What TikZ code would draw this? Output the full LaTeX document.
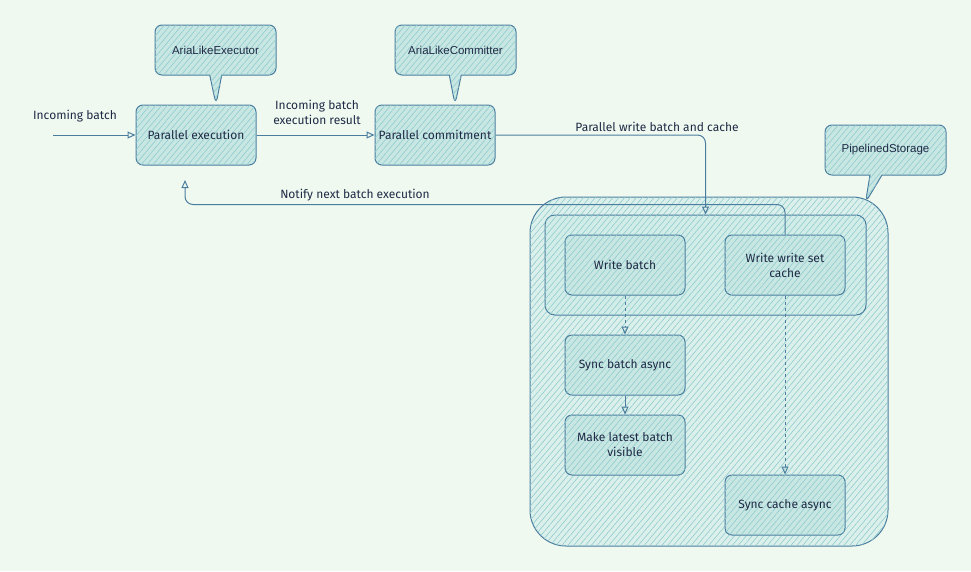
\documentclass[tikz,border=0pt]{standalone}
\usepackage{fontspec}
\setmainfont{Liberation Sans}
\newfontfamily\handfont{Fira Sans}
\usetikzlibrary{arrows.meta, shapes.callouts, patterns.meta}

\definecolor{bgc}{HTML}{F0F9F0}
\definecolor{linec}{HTML}{4A7D9E}
\definecolor{hatchc}{HTML}{8FCBCF}
\definecolor{boxc}{HTML}{C8E7E3}
\definecolor{groupc}{HTML}{DCF0EB}
\definecolor{innerc}{HTML}{D2EDE8}
\definecolor{txtc}{HTML}{1E2A45}

\tikzset{
  sketch/.style={draw=linec, line width=1pt, text=txtc},
  hatched/.style={fill=#1, postaction={pattern={Lines[angle=50, distance=4.5pt, line width=0.6pt]}, pattern color=hatchc}},
  stepbox/.style={sketch, hatched=boxc, rounded corners=7pt, minimum width=120pt, minimum height=60pt, align=center, font=\handfont\fontsize{12}{15}\selectfont},
  note/.style={sketch, hatched=boxc, rectangle callout, rounded corners=7pt, minimum width=121pt, minimum height=50pt, callout pointer width=12pt, font=\fontsize{11.5}{13}\selectfont},
  flow/.style={draw=linec, line width=1pt, -{Triangle[open, length=8pt, width=7pt]}},
  lbl/.style={text=txtc, font=\handfont\fontsize{12}{15}\selectfont, align=center}
}

\begin{document}
\begin{tikzpicture}[x=1pt, y=-1pt]

	% Canvas
	\useasboundingbox (0,0) rectangle (971,571);
	\fill[bgc] (0,0) rectangle (971,571);

	% === STORAGE CONTAINERS ===
	\node[sketch, hatched=groupc, rounded corners=36pt, minimum width=358pt, minimum height=349pt] (storage) at (709,371.5) {};
	\node[sketch, hatched=innerc, rounded corners=10pt, minimum width=321pt, minimum height=100pt] (writeGroup) at (705.5,265) {};

	% === STEPS ===
	\node[stepbox] (exec) at (196,135) {Parallel execution};
	\node[stepbox] (commit) at (435,135) {Parallel commitment};
	\node[stepbox] (wbatch) at (625,265) {Write batch};
	\node[stepbox] (wcache) at (785,265) {Write write set\\cache};
	\node[stepbox] (sbatch) at (625,365) {Sync batch async};
	\node[stepbox] (visible) at (625,445) {Make latest batch\\visible};
	\node[stepbox] (scache) at (785,505) {Sync cache async};

	% === CALLOUTS ===
	\node[note, callout absolute pointer={([xshift=20pt]exec.north)}] (execNote) at (215.5,50) {AriaLikeExecutor};
	\node[note, callout absolute pointer={([xshift=20pt]commit.north)}] (commitNote) at (455.5,50) {AriaLikeCommitter};
	\node[note, callout absolute pointer={([xshift=-23pt,yshift=-6pt]storage.north east)}] (storageNote) at (885.5,150) {PipelinedStorage};

	% === CONNECTORS ===
	\coordinate (inStart) at (53,135);
	\coordinate (notifyEnd) at (185,180);
	\draw[flow] (inStart) -- (exec.west);
	\node[lbl] (inLbl) at (75,116) {Incoming batch};

	\draw[flow] (exec.east) -- (commit.west);
	\node[lbl] (resultLbl) at (317,112) {Incoming batch\\execution result};

	\draw[flow, rounded corners=8pt] (commit.east) -| (writeGroup.north);
	\node[lbl] (writeLbl) at (657,127) {Parallel write batch and cache};

	\draw[flow, rounded corners=8pt] (wcache.north) -- ++(0,-30) -| (notifyEnd);
	\node[lbl] (notifyLbl) at (355,195) {Notify next batch execution};

	\draw[flow, dashed] (wbatch.south) -- (sbatch.north);
	\draw[flow] (sbatch.south) -- (visible.north);
	\draw[flow, dashed] (wcache.south) -- (scache.north);

\end{tikzpicture}
\end{document}
